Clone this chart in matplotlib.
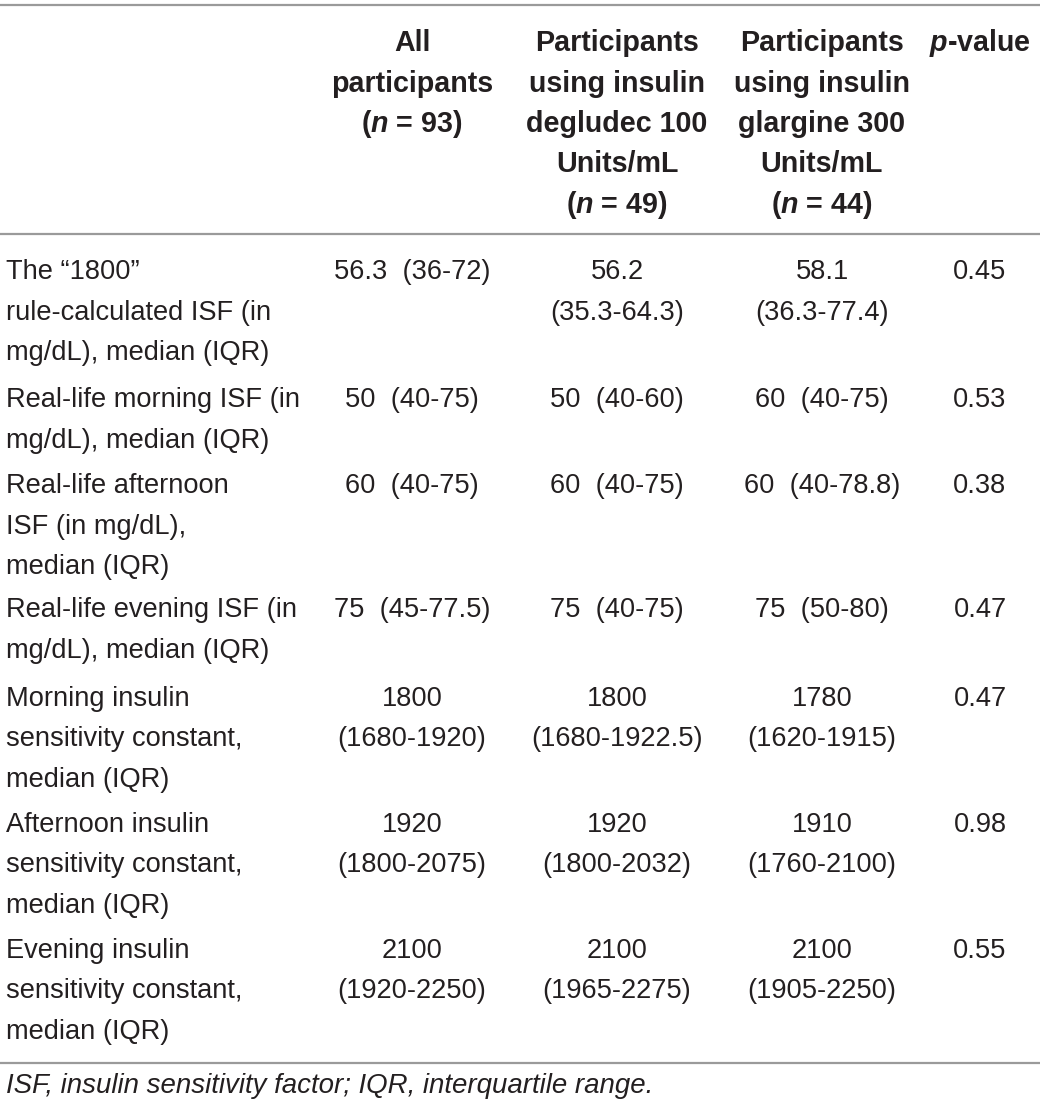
import matplotlib.pyplot as plt
from matplotlib.lines import Line2D

# table content (one string per printed line)
col_headers = [
    ["All", "participants", "($\\mathbfit{n}$ = 93)"],
    ["Participants", "using insulin", "degludec 100", "Units/mL", "($\\mathbfit{n}$ = 49)"],
    ["Participants", "using insulin", "glargine 300", "Units/mL", "($\\mathbfit{n}$ = 44)"],
]
p_header = "$\\mathbfit{p}$-value"
row_labels = [
    ["The \u201c1800\u201d", "rule-calculated ISF (in", "mg/dL), median (IQR)"],
    ["Real-life morning ISF (in", "mg/dL), median (IQR)"],
    ["Real-life afternoon", "ISF (in mg/dL),", "median (IQR)"],
    ["Real-life evening ISF (in", "mg/dL), median (IQR)"],
    ["Morning insulin", "sensitivity constant,", "median (IQR)"],
    ["Afternoon insulin", "sensitivity constant,", "median (IQR)"],
    ["Evening insulin", "sensitivity constant,", "median (IQR)"],
]
all_part = [["56.3  (36-72)"], ["50  (40-75)"], ["60  (40-75)"], ["75  (45-77.5)"],
            ["1800", "(1680-1920)"], ["1920", "(1800-2075)"], ["2100", "(1920-2250)"]]
degludec = [["56.2", "(35.3-64.3)"], ["50  (40-60)"], ["60  (40-75)"], ["75  (40-75)"],
            ["1800", "(1680-1922.5)"], ["1920", "(1800-2032)"], ["2100", "(1965-2275)"]]
glargine = [["58.1", "(36.3-77.4)"], ["60  (40-75)"], ["60  (40-78.8)"], ["75  (50-80)"],
            ["1780", "(1620-1915)"], ["1910", "(1760-2100)"], ["2100", "(1905-2250)"]]
p_values = ["0.45", "0.53", "0.38", "0.47", "0.47", "0.98", "0.55"]
footnote = "ISF, insulin sensitivity factor; IQR, interquartile range."

W, H = 1040, 1111
plt.rcParams['font.family'] = ['Liberation Sans', 'DejaVu Sans']
plt.rcParams['mathtext.fontset'] = 'custom'
plt.rcParams['mathtext.bfit'] = 'Liberation Sans:bold:italic'
fig = plt.figure(figsize=(W / 100, H / 100), dpi=100)

fs = 19.6
fs_bold = 20.6
col_x = [412, 617, 822]
p_x = 980
txt = '#231f20'
rule = '#9a9a9a'


def fx(x):
    return x / W


def fy(y):
    return 1 - y / H


def hline(y):
    fig.add_artist(Line2D([0, 1], [fy(y), fy(y)], color=rule, lw=1.6,
                          transform=fig.transFigure))


def put(x, base, lines, ha='center', pitch=40.5, size=fs, **kw):
    for k, s in enumerate(lines):
        fig.text(fx(x), fy(base + k * pitch), s, ha=ha, va='baseline',
                 fontsize=size, color=txt, **kw)


hline(5)
hline(234)
hline(1063)

# header
for x, h in zip(col_x, col_headers):
    put(x, 51, h, size=fs_bold, fontweight='bold')
put(p_x, 51, [p_header], size=fs_bold, fontweight='bold')

# body
row_base = [279, 407, 493, 617, 706, 832, 958]
for i, b in enumerate(row_base):
    put(6, b, row_labels[i], ha='left')
    for x, col in zip(col_x, [all_part, degludec, glargine]):
        put(x, b, col[i])
    put(p_x, b, [p_values[i]])

put(6, 1093, [footnote], ha='left', size=19.9, style='italic')

fig.savefig('out.png', dpi=100, facecolor='white')
